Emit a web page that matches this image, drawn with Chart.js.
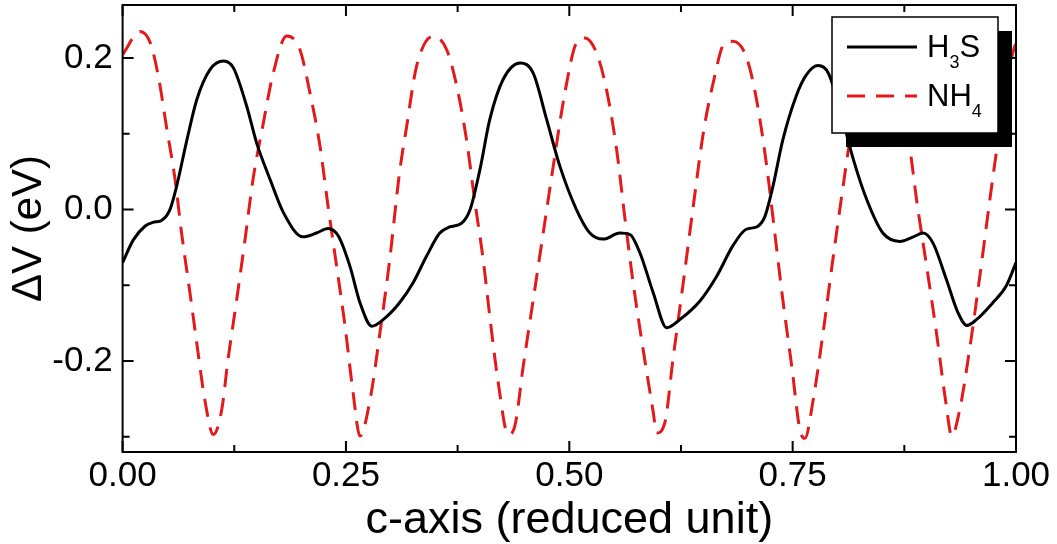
<!DOCTYPE html>
<html><head><meta charset="utf-8">
<script src="https://cdn.jsdelivr.net/npm/chart.js@4/dist/chart.umd.min.js"></script>
<style>html,body{margin:0;padding:0;background:#fff;overflow:hidden}#wrap{width:1057px;height:544px;position:relative}</style>
</head><body><div id="wrap"><canvas id="c" width="1057" height="544"></canvas></div>
<script>
// ---- data ----
const seriesNames = ['H\u2083S', 'NH\u2084'];

const h3sX = [0.000,0.012,0.025,0.034,0.044,0.053,0.0605,0.072,0.083,0.098,0.113,0.124,0.139,0.150,0.165,0.180,0.202,0.217,0.230,0.2415,0.2545,0.2657,0.279,0.292,0.310,0.325,0.340,0.355,0.366,0.3795,0.389,0.400,0.411,0.426,0.445,0.4596,0.4746,0.4895,0.508,0.523,0.538,0.5566,0.568,0.579,0.594,0.609,0.624,0.646,0.665,0.683,0.698,0.7096,0.719,0.728,0.739,0.754,0.7655,0.7785,0.790,0.803,0.818,0.833,0.851,0.870,0.885,0.896,0.907,0.922,0.935,0.945,0.956,0.974,0.989,1.000];
const h3sY = [-0.070,-0.040,-0.022,-0.017,-0.014,0.000,0.031,0.092,0.145,0.185,0.196,0.187,0.136,0.088,0.040,-0.004,-0.036,-0.031,-0.025,-0.035,-0.075,-0.123,-0.154,-0.145,-0.123,-0.097,-0.062,-0.031,-0.023,-0.018,0.000,0.053,0.119,0.172,0.1935,0.180,0.119,0.057,0.000,-0.031,-0.039,-0.031,-0.033,-0.057,-0.110,-0.156,-0.145,-0.121,-0.088,-0.048,-0.026,-0.023,-0.009,0.031,0.092,0.150,0.178,0.190,0.180,0.132,0.066,0.013,-0.031,-0.042,-0.036,-0.031,-0.044,-0.092,-0.136,-0.153,-0.145,-0.123,-0.101,-0.070];

const nh4X = [0.000,0.0195,0.031,0.040,0.049,0.0587,0.066,0.0754,0.083,0.092,0.1015,0.111,0.118,0.1277,0.137,0.146,0.1575,0.1686,0.1836,0.1985,0.2097,0.221,0.230,0.2396,0.249,0.258,0.2657,0.277,0.288,0.299,0.310,0.318,0.329,0.348,0.3627,0.374,0.385,0.394,0.4036,0.411,0.4205,0.4316,0.439,0.4484,0.4596,0.4708,0.482,0.495,0.508,0.5175,0.5305,0.5417,0.553,0.562,0.5715,0.5827,0.594,0.5977,0.607,0.616,0.6275,0.6387,0.650,0.661,0.674,0.683,0.698,0.7096,0.721,0.730,0.739,0.749,0.758,0.7637,0.773,0.784,0.795,0.8065,0.814,0.825,0.838,0.849,0.860,0.871,0.881,0.8887,0.900,0.911,0.922,0.928,0.937,0.948,0.9595,0.9707,0.980,0.989,0.9987,1.000];
const nh4Y = [0.2045,0.235,0.220,0.176,0.110,0.040,-0.031,-0.110,-0.176,-0.251,-0.297,-0.264,-0.198,-0.119,-0.040,0.040,0.114,0.180,0.229,0.211,0.154,0.0835,0.004,-0.075,-0.154,-0.242,-0.299,-0.251,-0.163,-0.066,0.049,0.110,0.189,0.229,0.211,0.163,0.092,0.013,-0.066,-0.141,-0.229,-0.297,-0.286,-0.207,-0.119,-0.031,0.057,0.154,0.220,0.2265,0.2067,0.158,0.079,-0.009,-0.097,-0.185,-0.268,-0.295,-0.281,-0.198,-0.097,0.004,0.101,0.167,0.220,0.222,0.202,0.145,0.057,-0.031,-0.119,-0.207,-0.290,-0.302,-0.251,-0.163,-0.066,0.031,0.092,0.170,0.220,0.232,0.218,0.160,0.0835,0.013,-0.075,-0.163,-0.259,-0.299,-0.264,-0.185,-0.088,0.013,0.092,0.163,0.216,0.218];

const xMajorTicks = [0, 0.25, 0.5, 0.75, 1];
const xMinorTicks = [0.125, 0.375, 0.625, 0.875];
const yMajorTicks = [-0.2, 0, 0.2];
const yMinorTicks = [-0.3, -0.1, 0.1];
const xTitle = 'c-axis (reduced unit)';
const yTitle = '\u0394V (eV)';

// ---- chart ----
const FONT = '"Liberation Sans", Arial, sans-serif';
const RED = '#e3191c';

const framePlugin = {
  id: 'frame',
  afterDatasetsDraw(chart) {
    const ctx = chart.ctx, a = chart.chartArea;
    const xs = chart.scales.x, ys = chart.scales.y;
    ctx.save();
    ctx.strokeStyle = '#000';
    ctx.lineWidth = 2;
    ctx.strokeRect(a.left, a.top, a.right - a.left, a.bottom - a.top);
    ctx.beginPath();
    const tick = (vals, len) => {
      vals.forEach(v => {
        const px = xs.getPixelForValue(v);
        ctx.moveTo(px, a.bottom); ctx.lineTo(px, a.bottom - len);
        ctx.moveTo(px, a.top); ctx.lineTo(px, a.top + len);
      });
    };
    const tickY = (vals, len) => {
      vals.forEach(v => {
        const py = ys.getPixelForValue(v);
        ctx.moveTo(a.left, py); ctx.lineTo(a.left + len, py);
        ctx.moveTo(a.right, py); ctx.lineTo(a.right - len, py);
      });
    };
    tick(xMajorTicks, 11); tick(xMinorTicks, 7);
    tickY(yMajorTicks, 11); tickY(yMinorTicks, 7);
    ctx.stroke();
    ctx.restore();
  }
};

function drawSubLabel(ctx, text, x, baseline) {
  const subs = '\u2080\u2081\u2082\u2083\u2084\u2085\u2086\u2087\u2088\u2089';
  let cx = x;
  for (const ch of text) {
    const i = subs.indexOf(ch);
    if (i >= 0) {
      ctx.font = '18px ' + FONT;
      ctx.fillText(String(i), cx, baseline + 11);
      cx += ctx.measureText(String(i)).width;
    } else {
      ctx.font = '31px ' + FONT;
      ctx.fillText(ch, cx, baseline);
      cx += ctx.measureText(ch).width;
    }
  }
}

const legendPlugin = {
  id: 'boxLegend',
  afterDraw(chart) {
    const ctx = chart.ctx;
    const bx = 832, by = 17, bw = 166, bh = 116, sh = 14;
    ctx.save();
    ctx.fillStyle = '#000';
    ctx.fillRect(bx + sh, by + sh, bw, bh);
    ctx.fillStyle = '#fff';
    ctx.fillRect(bx, by, bw, bh);
    ctx.strokeStyle = '#000';
    ctx.lineWidth = 1.5;
    ctx.strokeRect(bx, by, bw, bh);
    const rows = [47, 96];
    chart.data.datasets.forEach((ds, i) => {
      ctx.beginPath();
      ctx.strokeStyle = ds.borderColor;
      ctx.lineWidth = ds.borderWidth;
      ctx.setLineDash(ds.borderDash || []);
      ctx.moveTo(847, rows[i]); ctx.lineTo(917, rows[i]);
      ctx.stroke();
      ctx.setLineDash([]);
      ctx.fillStyle = '#000';
      ctx.textBaseline = 'alphabetic';
      ctx.textAlign = 'left';
      drawSubLabel(ctx, ds.label, 927, rows[i] + 10);
    });
    ctx.restore();
  }
};

new Chart(document.getElementById('c'), {
  type: 'line',
  data: {
    datasets: [
      { label: seriesNames[0], data: h3sX.map((x, i) => ({ x, y: h3sY[i] })),
        borderColor: '#000', borderWidth: 3, pointRadius: 0, fill: false,
        cubicInterpolationMode: 'monotone' },
      { label: seriesNames[1], data: nh4X.map((x, i) => ({ x, y: nh4Y[i] })),
        borderColor: RED, borderWidth: 3, borderDash: [18, 11], pointRadius: 0, fill: false,
        cubicInterpolationMode: 'monotone' }
    ]
  },
  options: {
    responsive: false, animation: false, devicePixelRatio: 1,
    layout: { padding: { left: 0, right: 41, top: 5, bottom: 0 } },
    plugins: { legend: { display: false }, tooltip: { enabled: false } },
    scales: {
      x: {
        type: 'linear', min: 0, max: 1,
        grid: { display: false, drawTicks: false },
        border: { display: false },
        afterBuildTicks: s => { s.ticks = xMajorTicks.map(v => ({ value: v })); },
        afterFit: s => { s.height = 92; s.paddingLeft = 0; s.paddingRight = 0; },
        ticks: { color: '#000', padding: 3, maxRotation: 0, autoSkip: false,
          font: { family: FONT, size: 35 }, callback: v => Number(v).toFixed(2) },
        title: { display: true, text: xTitle, color: '#000',
          font: { family: FONT, size: 45, lineHeight: 1 }, padding: { top: 0, bottom: 1 } }
      },
      y: {
        type: 'linear', min: -0.32, max: 0.27,
        grid: { display: false, drawTicks: false },
        border: { display: false },
        afterBuildTicks: s => { s.ticks = yMajorTicks.map(v => ({ value: v })); },
        afterFit: s => { s.width = 122.6; s.paddingTop = 0; s.paddingBottom = 0; },
        ticks: { color: '#000', padding: 10, autoSkip: false,
          font: { family: FONT, size: 35 }, callback: v => Number(v).toFixed(1) },
        title: { display: true, text: yTitle, color: '#000',
          font: { family: FONT, size: 42, lineHeight: 1 }, padding: { top: 8, bottom: 0 } }
      }
    }
  },
  plugins: [framePlugin, legendPlugin]
});
</script></body></html>
